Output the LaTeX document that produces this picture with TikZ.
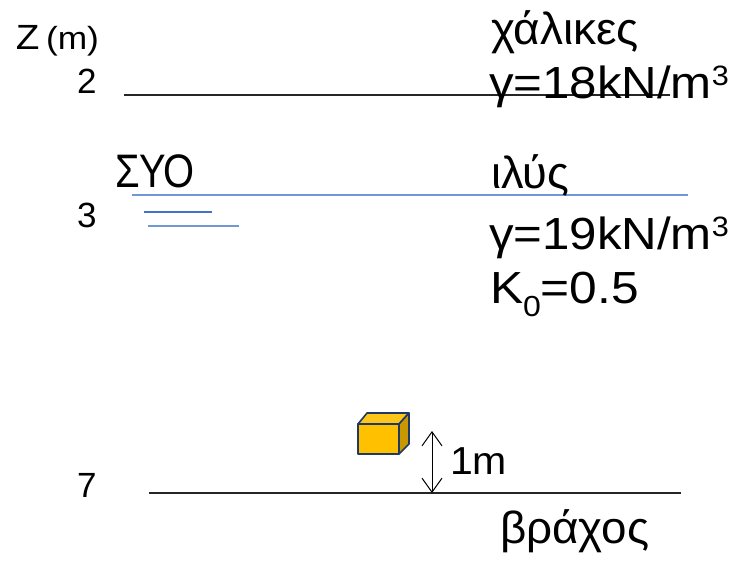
\documentclass[tikz,border=0pt]{standalone}
\usepackage{fontspec}
\setmainfont{Liberation Sans}
\usepackage{graphicx}
\usetikzlibrary{arrows.meta}
\definecolor{wtblue}{HTML}{7097D6}
\definecolor{wtdark}{HTML}{4472C4}
\definecolor{cubefront}{HTML}{FFC000}
\definecolor{cubeside}{HTML}{C99700}
\definecolor{cubetop}{HTML}{FFC61A}
\definecolor{cubeedge}{HTML}{1F3864}
\newcommand{\fitw}[2]{\resizebox{#1pt}{\height}{#2}}
\newcommand{\cubed}{\raisebox{13pt}{\fontsize{28}{30}\selectfont 3}}
\begin{document}
\begin{tikzpicture}[x=1pt,y=-1pt,
  lbl/.style={inner sep=0pt,outer sep=0pt,anchor=base west},
  big/.style={lbl,font=\fontsize{45}{50}\selectfont},
  num/.style={lbl,font=\fontsize{35}{40}\selectfont},
  layer/.style={line width=1.3pt,draw=black!85},
  wt/.style={line width=1.2pt,draw=wtblue},
  cube/.style={draw=cubeedge,line width=1.6pt,line join=round},
  dimarrow/.style={line width=1pt,>={Straight Barb[length=14pt,width=20pt]},<->}]
\useasboundingbox (0,0) rectangle (741,563);
% axis labels
\node[num] (zlab) at (16,49) {\fitw{83}{Z\,{\fontsize{32}{34}\selectfont(m)}}};
\node[num] (z2) at (77,93) {2};
\node[num] (z3) at (77,227) {3};
\node[num] (z7) at (77,497) {7};
% layer boundaries
\coordinate (l1a) at (124,95);  \coordinate (l1b) at (670,95);
\coordinate (wa) at (132,195);  \coordinate (wb) at (688,195);
\coordinate (w1a) at (144,212); \coordinate (w1b) at (212,212);
\coordinate (w2a) at (148,226); \coordinate (w2b) at (239,226);
\coordinate (l2a) at (149,493); \coordinate (l2b) at (681,493);
\draw[layer] (l1a) -- (l1b);
\draw[wt] (wa) -- (wb);
\draw[line width=1.2pt,draw=wtdark] (w1a) -- (w1b);
\draw[wt] (w2a) -- (w2b);
\draw[layer] (l2a) -- (l2b);
% texts
\node[big] (t1) at (491,44) {\fitw{148}{χάλικες}};
\node[big] (t2) at (489,98) {\fitw{240}{γ=18kN/m\cubed}};
\node[lbl,font=\fontsize{47}{50}\selectfont] (syo) at (115,187) {\fitw{80}{ΣΥΟ}};
\node[big] (t3) at (491,188) {\fitw{78}{ιλύς}};
\node[big] (t4) at (489,249) {\fitw{240}{γ=19kN/m\cubed}};
\node[big] (t5) at (490,303) {\fitw{149}{K\raisebox{-13pt}{\fontsize{29}{30}\selectfont 0}=0.5}};
\node[big] (t6) at (500,543) {\fitw{149}{βράχος}};
\node[lbl,font=\fontsize{39}{40}\selectfont] (onem) at (450,474) {\fitw{57}{1m}};
% cube
\coordinate (cA) at (358,424); \coordinate (cB) at (399,424);
\coordinate (cC) at (399,454); \coordinate (cD) at (358,454);
\coordinate (cE) at (367,413); \coordinate (cF) at (409,413);
\coordinate (cG) at (409,444);
\filldraw[cube,fill=cubetop] (cA) -- (cE) -- (cF) -- (cB) -- cycle;
\filldraw[cube,fill=cubeside] (cB) -- (cF) -- (cG) -- (cC) -- cycle;
\filldraw[cube,fill=cubefront] (cA) -- (cB) -- (cC) -- (cD) -- cycle;
% dimension arrow
\coordinate (arT) at (432,431);
\coordinate (arB) at (432,493);
\draw[dimarrow] (arT) -- (arB);
\end{tikzpicture}
\end{document}
